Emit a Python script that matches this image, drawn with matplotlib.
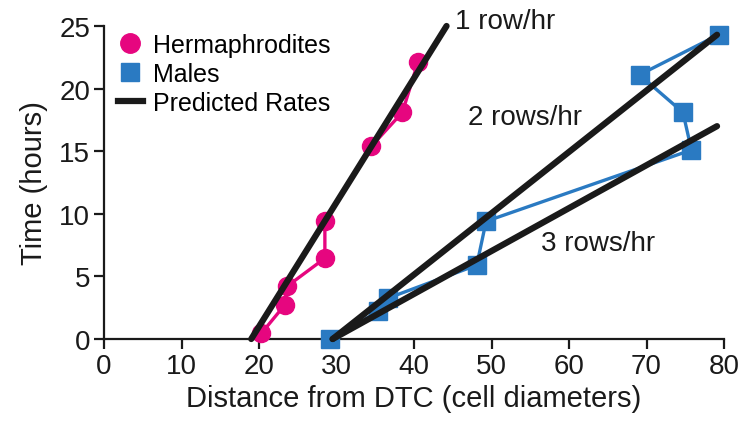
import matplotlib
matplotlib.use("Agg")
import matplotlib.pyplot as plt
from matplotlib.lines import Line2D

plt.rcParams['font.family'] = ['Liberation Sans', 'DejaVu Sans']

# Data
herm_x = [20.3, 23.3, 23.6, 28.5, 28.5, 34.5, 38.5, 40.5]
herm_y = [0.45, 2.7, 4.2, 6.45, 9.45, 15.4, 18.1, 22.1]
male_x = [29.2, 35.4, 36.6, 48.1, 49.3, 75.8, 74.7, 69.1, 79.3]
male_y = [0.0, 2.2, 3.25, 5.9, 9.4, 15.1, 18.1, 21.1, 24.3]
rate1_x = [19.0, 44.2]
rate1_y = [0.0, 25.0]
rate2_x = [29.5, 79.1]
rate2_y = [0.0, 24.3]
rate3_x = [29.5, 79.1]
rate3_y = [0.0, 17.0]
labels = ["1 row/hr", "2 rows/hr", "3 rows/hr"]
label_pos = [(45.3, 25.4), (47.0, 17.7), (56.4, 7.7)]

pink = '#E6067F'
blue = '#2A7AC2'

fig = plt.figure(figsize=(7.45, 4.31), dpi=100)
ax = fig.add_axes([104/745, 1-340/431, 620/745, 313/431])

ax.plot(herm_x, herm_y, '-o', color=pink, lw=2.4, ms=13, clip_on=False, zorder=3)
ax.plot(male_x, male_y, '-s', color=blue, lw=2.4, ms=13, clip_on=False, zorder=3)
for xs, ys in [(rate1_x, rate1_y), (rate2_x, rate2_y), (rate3_x, rate3_y)]:
    ax.plot(xs, ys, '-', color='#1a1a1a', lw=4.5, solid_capstyle='round', clip_on=False, zorder=4)

for t, (x, y) in zip(labels, label_pos):
    ax.text(x, y, t, fontsize=20, ha='left', va='center', color='#1a1a1a')

ax.set_xlim(0, 80)
ax.set_ylim(0, 25)
ax.set_xticks(range(0, 81, 10))
ax.set_yticks(range(0, 26, 5))
for s in ['top', 'right']:
    ax.spines[s].set_visible(False)
for s in ['left', 'bottom']:
    ax.spines[s].set_linewidth(1.6)
    ax.spines[s].set_color('#1a1a1a')
ax.tick_params(direction='out', length=7, width=1.6, labelsize=20, colors='#1a1a1a', pad=3)

ax.set_xlabel("Distance from DTC (cell diameters)", fontsize=21, color='#1a1a1a', labelpad=4)
ax.set_ylabel("Time (hours)", fontsize=21, color='#1a1a1a', labelpad=8)

handles = [
    Line2D([], [], marker='o', color=pink, ls='none', ms=14),
    Line2D([], [], marker='s', color=blue, ls='none', ms=13),
    Line2D([], [], color='#1a1a1a', lw=4.5),
]
leg = ax.legend(handles, ["Hermaphrodites", "Males", "Predicted Rates"], loc='upper left',
                bbox_to_anchor=(-0.006, 1.033), frameon=False, fontsize=18,
                handlelength=1.0, handletextpad=0.4, labelspacing=0.2, borderaxespad=0.3)

fig.savefig("out.png", dpi=100)
